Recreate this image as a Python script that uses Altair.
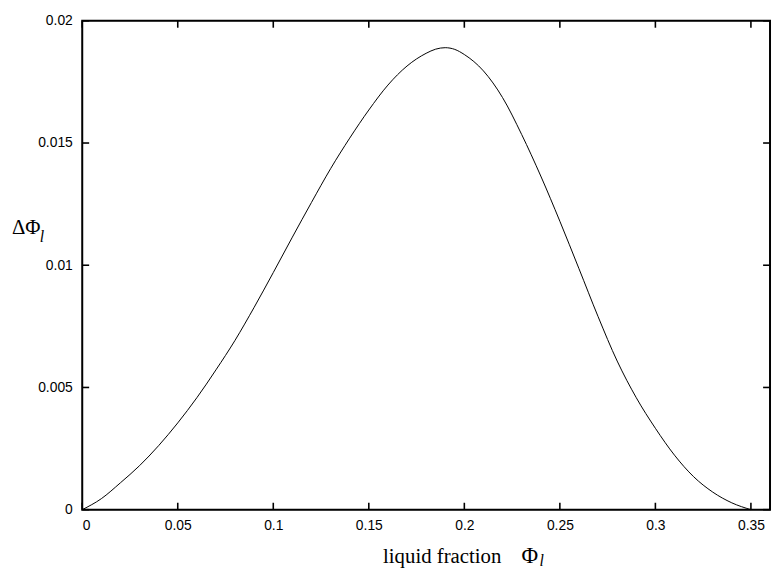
import altair as alt
import pandas as pd

# curve
phi = [0, 0.01, 0.02, 0.03, 0.04, 0.05, 0.06, 0.07, 0.08, 0.09, 0.10, 0.11, 0.12,
       0.13, 0.14, 0.15, 0.16, 0.17, 0.18, 0.185, 0.19, 0.195, 0.20, 0.21, 0.22,
       0.23, 0.24, 0.25, 0.26, 0.27, 0.28, 0.29, 0.30, 0.31, 0.32, 0.33, 0.34, 0.35]
dphi = [0, 0.00045, 0.00110, 0.00180, 0.00262, 0.00355, 0.00458, 0.00572, 0.00693,
        0.00828, 0.00970, 0.01115, 0.01257, 0.01395, 0.01520, 0.01635, 0.01737,
        0.01815, 0.01867, 0.01884, 0.01890, 0.01883, 0.01862, 0.01795, 0.01686,
        0.01535, 0.01365, 0.01180, 0.00986, 0.00790, 0.00608, 0.00458, 0.00333,
        0.00223, 0.00135, 0.00072, 0.00028, 0]

x_ticks = [0, 0.05, 0.1, 0.15, 0.2, 0.25, 0.3, 0.35]
y_ticks = [0, 0.005, 0.01, 0.015, 0.02]

W, H = 695, 494
TL = 7

df = pd.DataFrame({"phi": phi, "dphi": dphi})
xt = pd.DataFrame({"v": x_ticks})
yt = pd.DataFrame({"v": y_ticks})

xscale = alt.Scale(domain=[0, 0.36], nice=False, zero=False)
yscale = alt.Scale(domain=[0, 0.02], nice=False, zero=False)

xaxis = alt.Axis(values=x_ticks, format="~g", title=None, grid=False, domain=False,
                 ticks=False, tickSize=0, labelPadding=9, labelFont="Liberation Sans",
                 labelFontSize=14, labelColor="black")
yaxis = alt.Axis(values=y_ticks, format="~g", title=None, grid=False, domain=False,
                 ticks=False, tickSize=0, labelPadding=10, labelFont="Liberation Sans",
                 labelFontSize=14, labelColor="black")

line = alt.Chart(df).mark_line(color="black", strokeWidth=1, interpolate="monotone").encode(
    x=alt.X("phi:Q", scale=xscale, axis=xaxis),
    y=alt.Y("dphi:Q", scale=yscale, axis=yaxis),
)

frame = alt.Chart(pd.DataFrame({"a": [0]})).mark_rect(
    fill=None, stroke="black", strokeWidth=2
).encode(x=alt.value(0), x2=alt.value(W), y=alt.value(0), y2=alt.value(H))

tick_style = dict(color="black", strokeWidth=1.6)
xb = alt.Chart(xt).mark_rule(**tick_style).encode(
    x=alt.X("v:Q", scale=xscale), y=alt.value(H), y2=alt.value(H - TL))
xtop = alt.Chart(xt).mark_rule(**tick_style).encode(
    x=alt.X("v:Q", scale=xscale), y=alt.value(0), y2=alt.value(TL))
yl = alt.Chart(yt).mark_rule(**tick_style).encode(
    y=alt.Y("v:Q", scale=yscale), x=alt.value(0), x2=alt.value(TL))
yr = alt.Chart(yt).mark_rule(**tick_style).encode(
    y=alt.Y("v:Q", scale=yscale), x=alt.value(W - TL), x2=alt.value(W))

serif = "Liberation Serif"
tx = alt.Chart(pd.DataFrame({"t": ["liquid fraction"]})).mark_text(
    font=serif, fontSize=21, align="left", baseline="alphabetic", color="black"
).encode(text="t:N", x=alt.value(304), y=alt.value(548))
tphi = alt.Chart(pd.DataFrame({"t": ["Φ"]})).mark_text(
    font=serif, fontSize=23, align="left", baseline="alphabetic", color="black"
).encode(text="t:N", x=alt.value(444), y=alt.value(548))
tsub = alt.Chart(pd.DataFrame({"t": ["l"]})).mark_text(
    font=serif, fontSize=16, fontStyle="italic", align="left", baseline="alphabetic", color="black"
).encode(text="t:N", x=alt.value(462), y=alt.value(551))

ty = alt.Chart(pd.DataFrame({"t": ["ΔΦ"]})).mark_text(
    font=serif, fontSize=21, align="left", baseline="alphabetic", color="black"
).encode(text="t:N", x=alt.value(-71), y=alt.value(215))
tysub = alt.Chart(pd.DataFrame({"t": ["l"]})).mark_text(
    font=serif, fontSize=16, fontStyle="italic", align="left", baseline="alphabetic", color="black"
).encode(text="t:N", x=alt.value(-43), y=alt.value(224))

chart = alt.layer(line, frame, xb, xtop, yl, yr, tx, tphi, tsub, ty, tysub).properties(
    width=W, height=H,
    autosize=alt.AutoSizeParams(type="none"),
    padding={"left": 75, "top": 10, "right": 2, "bottom": 56},
).configure_view(stroke=None).configure(background="white")

chart.save("out.html", embed_options={"renderer": "svg", "actions": False})
